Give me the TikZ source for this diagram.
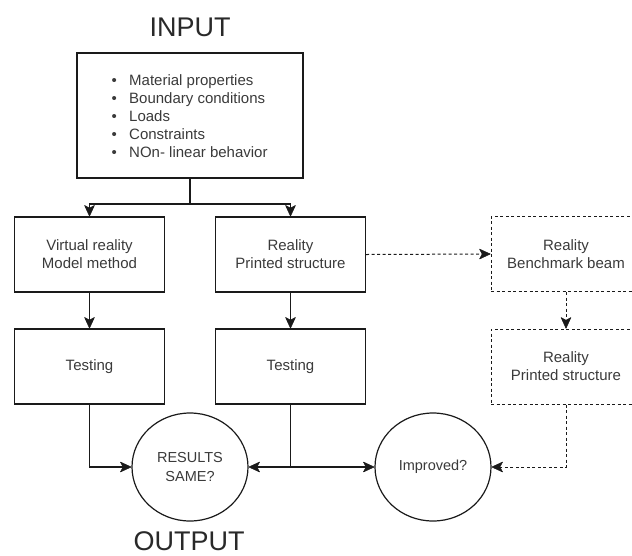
\documentclass[tikz,border=0pt]{standalone}
\usepackage{fontspec}
\setmainfont{Liberation Sans}
\usetikzlibrary{arrows.meta,shapes.geometric}
\definecolor{txt}{HTML}{3A3A3A}
\definecolor{ln}{HTML}{1A1A1A}
\begin{document}
\begin{tikzpicture}[x=1pt,y=-1pt,
  box/.style={draw=ln,line width=1.2pt,minimum width=150pt,minimum height=75pt,inner sep=0pt,align=center,text=txt,font=\fontsize{15}{18}\selectfont},
  dbox/.style={box,line width=1pt,dash pattern=on 3pt off 2.5pt},
  circ/.style={draw=ln,line width=1.2pt,ellipse,minimum width=116pt,minimum height=108pt,inner sep=0pt,align=center,text=txt,font=\fontsize{14.5}{19}\selectfont},
  big/.style={text=txt!70!black,font=\fontsize{27}{30}\selectfont,inner sep=0pt},
  conn/.style={draw=ln,line width=1.2pt},
  tip/.tip={Stealth[length=12pt,width=11pt,inset=3pt,line width=0.6pt,round]},
  arr/.style={conn,-tip},
  darr/.style={conn,line width=1pt,dash pattern=on 3pt off 2.5pt,-tip}]
\useasboundingbox (0,0) rectangle (632,555);
\clip (0,0) rectangle (632,555);
% titles
\node[big] (tin) at (190,27) {INPUT};
\node[big] (tout) at (189,541) {OUTPUT};
% input box
\node[draw=ln,line width=1.2pt,minimum width=226pt,minimum height=125pt,inner sep=0pt] (inp) at (190,115.5) {};
\node[anchor=west,inner sep=0pt,align=left,text=txt,font=\fontsize{15}{18}\selectfont] (lst) at (109,116)
  {\makebox[20pt][l]{\,•}Material properties\\
   \makebox[20pt][l]{\,•}Boundary conditions\\
   \makebox[20pt][l]{\,•}Loads\\
   \makebox[20pt][l]{\,•}Constraints\\
   \makebox[20pt][l]{\,•}NOn- linear behavior};
% boxes
\node[box] (vr) at (89.5,254.5) {Virtual reality\\Model method};
\node[box] (re) at (290.5,254.5) {Reality\\Printed structure};
\node[box] (t1) at (89.5,366.5) {Testing};
\node[box] (t2) at (290.5,366.5) {Testing};
\node[dbox] (bb) at (566,254) {Reality\\Benchmark beam};
\node[dbox] (ps) at (566,366.5) {Reality\\Printed structure};
% circles
\node[circ] (rs) at (190,467) {RESULTS\\SAME?};
\node[circ] (im) at (433,467) {Improved?};
% split points
\coordinate (sp) at (190,204);
\coordinate (j2) at (290.5,467);
% connectors
\draw[conn] (inp.south) -- (sp);
\draw[arr] (sp) -| (vr.north);
\draw[arr] (sp) -| (re.north);
\draw[arr] (vr) -- (t1);
\draw[arr] (re) -- (t2);
\draw[darr] (re.east) -- (bb.west);
\draw[darr] (bb) -- (ps);
\draw[arr] (t1.south) |- (rs.west);
\draw[conn] (t2.south) -- (j2);
\draw[arr] (j2) -- (rs.east);
\draw[arr] (j2) -- (im.west);
\draw[darr] (ps.south) |- (im.east);
\end{tikzpicture}
\end{document}
